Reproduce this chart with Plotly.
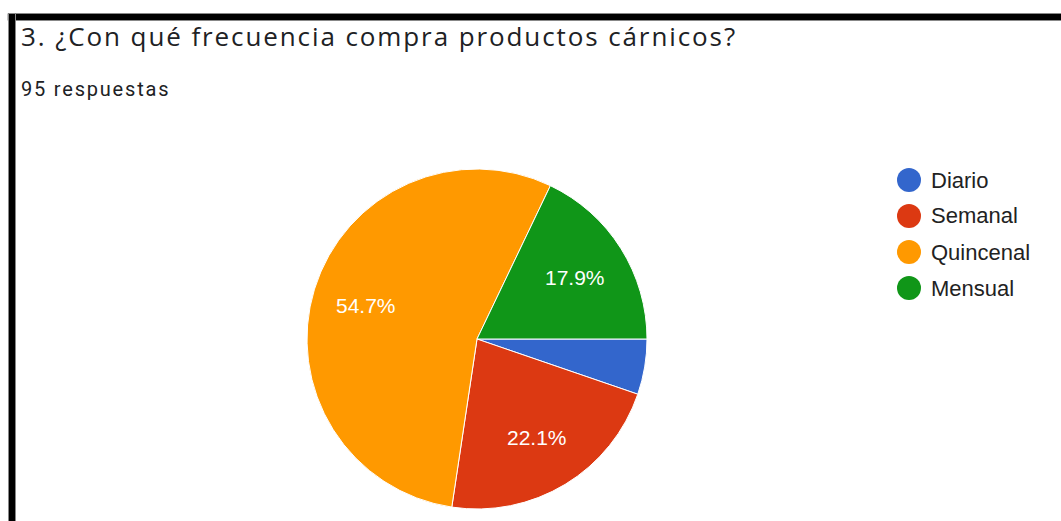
import math
import plotly.graph_objects as go

W, H = 1061, 521

# Survey answers
categories = ["Diario", "Semanal", "Quincenal", "Mensual"]
counts = [5, 21, 52, 17]
colors = ["#3366cc", "#dc3912", "#ff9900", "#109618"]
title_text = "3. ¿Con qué frecuencia compra productos cárnicos?"
subtitle_text = "95 respuestas"

# Pie geometry in pixels
cx, cy, r = 477, 339, 170


def px(x):
    return x / W


def py(y):
    return 1 - y / H


fig = go.Figure()
fig.add_trace(go.Pie(
    labels=categories,
    values=counts,
    sort=False,
    direction="clockwise",
    rotation=90,
    marker=dict(colors=colors, line=dict(color="white", width=1)),
    textinfo="none",
    showlegend=False,
    domain=dict(x=[px(cx - r), px(cx + r)], y=[py(cy + r), py(cy - r)]),
))

annotations = []
shapes = []

# Percentage labels placed on each slice's mid-angle
total = sum(counts)
start = 0.0
for cat, c in zip(categories, counts):
    frac = c / total
    mid = (start + frac / 2) * 2 * math.pi
    start += frac
    if frac < 0.1:
        continue
    lx = cx + 0.68 * r * math.cos(mid)
    ly = cy + 0.68 * r * math.sin(mid)
    annotations.append(dict(
        x=px(lx), y=py(ly), xref="paper", yref="paper",
        text=f"{frac * 100:.1f}%", showarrow=False,
        xanchor="center", yanchor="middle",
        font=dict(family="Arial, Liberation Sans", size=21, color="white"),
    ))

# Legend with round swatches
for i, (cat, col) in enumerate(zip(categories, colors)):
    ly = 180 + 36 * i
    shapes.append(dict(
        type="circle", xref="paper", yref="paper",
        x0=px(897), x1=px(921), y0=py(ly + 12), y1=py(ly - 12),
        fillcolor=col, line=dict(width=0),
    ))
    annotations.append(dict(
        x=px(929), y=py(ly), xref="paper", yref="paper",
        text=cat, showarrow=False, xanchor="left", yanchor="middle",
        font=dict(family="Arial, Liberation Sans", size=22, color="#222222"),
    ))

# Heading and response count
annotations.append(dict(
    x=px(19), y=py(36), xref="paper", yref="paper",
    text=f'<span style="letter-spacing:1.9px">{title_text}</span>',
    showarrow=False, xanchor="left", yanchor="middle",
    font=dict(family="Open Sans", size=26, color="#202124"),
))
annotations.append(dict(
    x=px(19), y=py(89), xref="paper", yref="paper",
    text=f'<span style="letter-spacing:1.8px">{subtitle_text}</span>',
    showarrow=False, xanchor="left", yanchor="middle",
    font=dict(family="Roboto", size=20, color="#202124"),
))

# Dark frame along the top and left edges
shapes.append(dict(type="rect", xref="paper", yref="paper",
                   x0=px(8), x1=px(W + 5), y0=py(20.5), y1=py(13.5),
                   fillcolor="black", line=dict(color="#888888", width=1)))
shapes.append(dict(type="rect", xref="paper", yref="paper",
                   x0=px(8.5), x1=px(15.5), y0=py(H + 5), y1=py(13.5),
                   fillcolor="black", line=dict(color="#888888", width=1)))

fig.update_layout(
    width=W, height=H,
    margin=dict(l=0, r=0, t=0, b=0),
    paper_bgcolor="white", plot_bgcolor="white",
    annotations=annotations, shapes=shapes,
)

fig.write_html("out.html")
